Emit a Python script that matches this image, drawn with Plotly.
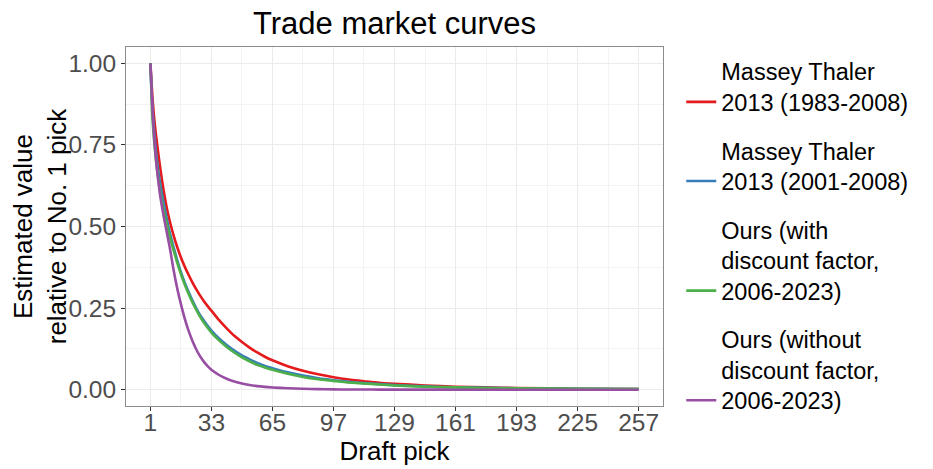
import plotly.graph_objects as go

picks = [1, 2, 3, 4, 5, 6, 7, 8, 9, 10, 11, 12,
         13, 15, 17, 19, 21, 23, 25, 27, 29, 31, 33,
         37, 41, 45, 49, 53, 57, 61, 65,
         73, 81, 89, 97, 105, 113, 121, 129,
         145, 161, 177, 193, 225, 257]

mt_1983_2008 = [1.0, 0.90, 0.83, 0.777, 0.73, 0.686, 0.645, 0.608, 0.575, 0.545, 0.52, 0.497,
                0.476, 0.438, 0.405, 0.377, 0.352, 0.329, 0.308, 0.289, 0.272, 0.256, 0.242,
                0.213, 0.188, 0.165, 0.146, 0.129, 0.114, 0.101, 0.09,
                0.072, 0.058, 0.047, 0.038, 0.031, 0.026, 0.021, 0.018,
                0.013, 0.009, 0.007, 0.005, 0.003, 0.002]
mt_2001_2008 = [1.0, 0.87, 0.79, 0.725, 0.675, 0.636, 0.602, 0.57, 0.54, 0.512, 0.485, 0.462,
                0.44, 0.398, 0.36, 0.328, 0.30, 0.274, 0.25, 0.229, 0.212, 0.196, 0.181,
                0.157, 0.137, 0.12, 0.105, 0.093, 0.082, 0.073, 0.066,
                0.053, 0.043, 0.035, 0.029, 0.024, 0.020, 0.017, 0.014,
                0.010, 0.007, 0.0055, 0.0045, 0.003, 0.002]
ours_with = [1.0, 0.84, 0.76, 0.70, 0.652, 0.612, 0.578, 0.548, 0.522, 0.497, 0.473, 0.451,
             0.43, 0.39, 0.354, 0.322, 0.294, 0.268, 0.245, 0.224, 0.206, 0.19, 0.175,
             0.151, 0.131, 0.114, 0.099, 0.087, 0.076, 0.068, 0.061,
             0.049, 0.039, 0.032, 0.027, 0.022, 0.019, 0.016, 0.013,
             0.009, 0.007, 0.005, 0.004, 0.003, 0.002]
ours_without = [1.0, 0.87, 0.77, 0.70, 0.645, 0.60, 0.563, 0.53, 0.50, 0.47, 0.44, 0.407,
                0.372, 0.312, 0.262, 0.218, 0.181, 0.15, 0.124, 0.103, 0.086, 0.072, 0.061,
                0.045, 0.0335, 0.025, 0.0188, 0.0143, 0.011, 0.0086, 0.0068,
                0.0043, 0.0027, 0.0017, 0.001, 0.0006, 0.0004, 0.0003, 0.0002,
                0.0001, 0.0, 0.0, 0.0, 0.0, 0.0]

series_names = [
    "Massey Thaler<br>2013 (1983-2008)",
    "Massey Thaler<br>2013 (2001-2008)",
    "Ours (with<br>discount factor,<br>2006-2023)",
    "Ours (without<br>discount factor,<br>2006-2023)",
]
series_values = [mt_1983_2008, mt_2001_2008, ours_with, ours_without]
colors = ["#E41A1C", "#377EB8", "#4DAF4A", "#984EA3"]

x_ticks = [1, 33, 65, 97, 129, 161, 193, 225, 257]
y_ticks = [0.0, 0.25, 0.5, 0.75, 1.0]
y_tick_labels = ["0.00", "0.25", "0.50", "0.75", "1.00"]

FONT = "Liberation Sans, Arial, Helvetica, sans-serif"

fig = go.Figure()
for i, (name, vals, col) in enumerate(zip(series_names, series_values, colors)):
    fig.add_trace(go.Scatter(
        x=picks, y=vals, mode="lines", name=name,
        line=dict(color=col, width=2.6, shape="spline", smoothing=0.6),
        legendgroup=f"g{i}",
    ))

# page body has an 8px margin, so the figure is sized/offset accordingly
fig.update_layout(
    width=925, height=461,
    margin=dict(l=118, r=269.5, t=39.3, b=63, autoexpand=False),
    paper_bgcolor="white", plot_bgcolor="white",
    font=dict(family=FONT, color="black"),
    title=dict(text="Trade market curves", xref="paper", x=0.5, xanchor="center",
               y=1 - 15 / 461, yanchor="middle", font=dict(size=31, color="black")),
    legend=dict(x=1.034, xanchor="left", y=0.993, yanchor="top",
                font=dict(size=23.5, color="black"), tracegroupgap=15,
                valign="bottom", bgcolor="rgba(0,0,0,0)"),
    showlegend=True,
)
try:
    fig.update_layout(legend_maxheight=440)
except Exception:
    pass

fig.update_xaxes(
    range=[1 - 12.8, 257 + 12.8],
    tickvals=x_ticks, ticktext=[str(v) for v in x_ticks],
    ticks="outside", ticklen=4, tickcolor="#333333",
    tickfont=dict(size=24.5, color="#4D4D4D"),
    showgrid=True, gridcolor="#EBEBEB", gridwidth=1,
    minor=dict(tick0=17, dtick=32, showgrid=True, gridcolor="#F3F3F3", gridwidth=0.7),
    showline=True, linecolor="#8C8C8C", linewidth=1, mirror=True,
    zeroline=False, automargin=False,
    title=dict(text="Draft pick", font=dict(size=26, color="black"), standoff=4),
)
try:
    fig.update_xaxes(ticklabelstandoff=-9)
except Exception:
    pass
fig.update_yaxes(
    range=[-0.05, 1.05],
    tickvals=y_ticks, ticktext=y_tick_labels,
    ticks="outside", ticklen=4, tickcolor="#333333",
    tickfont=dict(size=24.5, color="#4D4D4D"),
    showgrid=True, gridcolor="#EBEBEB", gridwidth=1,
    minor=dict(tick0=0.125, dtick=0.25, showgrid=True, gridcolor="#F3F3F3", gridwidth=0.7),
    showline=True, linecolor="#8C8C8C", linewidth=1, mirror=True,
    zeroline=False, automargin=False,
    title=dict(text="Estimated value<br>relative to No. 1 pick", font=dict(size=26, color="black"), standoff=0),
)

fig.write_html("out.html")
